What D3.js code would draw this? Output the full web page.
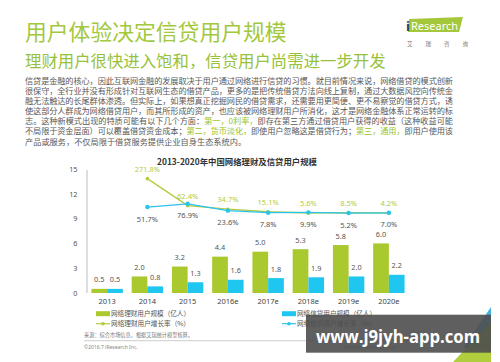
<!DOCTYPE html>
<html><head><meta charset="utf-8">
<script src="https://cdn.jsdelivr.net/npm/d3@7/dist/d3.min.js"></script>
<style>
html,body{margin:0;padding:0;background:#fff;}
svg{display:block;font-family:"Noto Sans","Noto Sans CJK SC",sans-serif;}
</style></head>
<body>
<svg id="c" width="500" height="362"></svg>
<script>
const years = ["2013","2014","2015","2016e","2017e","2018e","2019e","2020e"];
const wealthUsers = [0.5,2.0,3.2,4.4,5.0,5.3,5.8,6.0];
const loanUsers = [0.5,0.8,1.3,1.6,1.8,1.9,2.0,2.2];
const rateYears = ["2014","2015","2016e","2017e","2018e","2019e","2020e"];
const wealthRate = [271.8,62.4,34.7,15.1,5.6,8.5,4.2];
const loanRate = [51.7,76.9,23.6,7.8,9.9,5.2,7.0];
const yTicks = [0,3,6,9,12,15];
const legendLabels = ["网络理财用户规模（亿人）","网络信贷用户规模（亿人）","网络理财用户增长率（%）","网络信贷用户增长率（%）"];
const paraLines = [
 [["信贷是金融的核心，因此互联网金融的发展取决于用户通过网络进行信贷的习惯。就目前情况来说，网络借贷的模式创新",0]],
 [["很保守，全行业并没有形成针对互联网生态的借贷产品，更多的是把传统借贷方法向线上复制，通过大数据风控向传统金",0]],
 [["融无法触达的长尾群体渗透。但实际上，如果想真正挖掘网民的借贷需求，还需要用更简便、更不易察觉的借贷方式，诱",0]],
 [["使这部分人群成为网络借贷用户，而其所形成的资产，也应该被网络理财用户所消化，这才是网络金融体系正常运转的标",0]],
 [["志。这种新模式出现的特质可能有以下几个方面：",0],["第一，0利率，",1],["即存在第三方通过借贷用户获得的收益（这种收益可能",0]],
 [["不局限于资金层面）可以覆盖借贷资金成本；",0],["第二，货币淡化，",1],["即使用户忽略这是借贷行为；",0],["第三，通用，",1],["即用户使用该",0]],
 [["产品或服务，不仅局限于借贷服务提供企业自身生态系统内。",0]]
];

const GREEN = "#a9c92e", BLUE = "#1fc6f0", GLINE = "#b3cc3c", BLINE = "#2ac3ee";
const svg = d3.select("#c");

// header
svg.append("text").attr("x",25).attr("y",40).attr("fill","#a3c83d")
  .attr("font-family","Noto Sans CJK SC").attr("font-size",21.8).text("用户体验决定信贷用户规模");
svg.append("text").attr("x",25).attr("y",67).attr("fill","#98c23a")
  .attr("font-family","Noto Sans CJK SC").attr("font-size",16.4).text("理财用户很快进入饱和，信贷用户尚需进一步开发");

// logo
svg.append("path").attr("d","M409,19 L463,17 L459,32 L408,32 Z").attr("fill","#a4c83a");
svg.append("text").attr("x",406).attr("y",30.5).attr("fill","#1c3f7a").attr("font-size",13).attr("font-weight","bold").text("i");
svg.append("text").attr("x",411).attr("y",30).attr("fill","#fff").attr("font-size",11.5).attr("textLength",47).attr("lengthAdjust","spacingAndGlyphs").text("Research");
["艾","瑞","咨","询"].forEach((t,i)=>svg.append("text").attr("x",407+i*18.5).attr("y",46).attr("fill","#777").attr("font-size",5.5).attr("font-family","Noto Sans CJK SC").text(t));

// paragraph
paraLines.forEach((line,i)=>{
  const t = svg.append("text").attr("x",25).attr("y",83.5+i*10.17).attr("font-size",8.2)
    .attr("font-family","Noto Sans CJK SC").attr("fill","#595959");
  if(i<6) t.attr("textLength",428).attr("lengthAdjust","spacing");
  line.forEach(([s,h])=>t.append("tspan").attr("fill",h?"#9cc31f":"#595959").text(s));
});

// chart title
svg.append("text").attr("x",237).attr("y",164.5).attr("text-anchor","middle").attr("font-size",8.4)
  .attr("font-weight","bold").attr("fill","#333").attr("font-family","Noto Sans CJK SC").text("2013-2020年中国网络理财及信贷用户规模");

// scales
const x = d3.scaleBand().domain(years).range([87,409]).paddingInner(0.22).paddingOuter(0.11);
const x1 = d3.scaleBand().domain(["w","l"]).range([0,x.bandwidth()]);
const y = d3.scaleLinear().domain([0,15]).range([293,169]);
const yr = d3.scaleLinear().domain([0,300]).range([213.7,175]);
const cx = d => x(d)+x.bandwidth()/2;

// y axis
const yAxis = svg.append("g").attr("transform","translate(87,0)")
  .call(d3.axisLeft(y).tickValues(yTicks).tickSize(0).tickPadding(9.5));
yAxis.select(".domain").attr("stroke","#bcbcbc").attr("d","M0,170V293");
yAxis.selectAll("text").attr("font-size",7.3).attr("fill","#555").attr("font-family","Noto Sans");

// x axis labels
const xAxis = svg.append("g").attr("transform","translate(0,293)")
  .call(d3.axisBottom(x).tickSize(0).tickPadding(6));
xAxis.select(".domain").remove();
xAxis.selectAll("text").attr("font-size",7.5).attr("fill","#444").attr("font-family","Noto Sans");

// bars
const g = svg.append("g");
years.forEach((yrk,i)=>{
  [["w",wealthUsers[i],GREEN],["l",loanUsers[i],BLUE]].forEach(([k,v,c])=>{
    const bx = x(yrk)+x1(k);
    g.append("rect").attr("x",bx).attr("y",y(v)).attr("width",x1.bandwidth()).attr("height",y(0)-y(v)).attr("fill",c);
    g.append("text").attr("x",bx+x1.bandwidth()/2).attr("y",y(v)-6.5).attr("text-anchor","middle")
      .attr("font-size",7.3).attr("fill","#555").text(v.toFixed(1));
  });
});

// lines
const line = d3.line().x(d=>cx(d[0])).y(d=>yr(d[1]));
const wData = rateYears.map((d,i)=>[d,wealthRate[i]]);
const lData = rateYears.map((d,i)=>[d,loanRate[i]]);
svg.append("path").datum(wData).attr("d",line).attr("fill","none").attr("stroke",GLINE).attr("stroke-width",1.3);
svg.append("path").datum(lData).attr("d",line).attr("fill","none").attr("stroke",BLINE).attr("stroke-width",1.3);
svg.selectAll(".wd").data(wData).join("circle").attr("cx",d=>cx(d[0])).attr("cy",d=>yr(d[1])).attr("r",1.8).attr("fill",GLINE);
svg.selectAll(".ld").data(lData).join("circle").attr("cx",d=>cx(d[0])).attr("cy",d=>yr(d[1])).attr("r",2.2).attr("fill",BLINE);
svg.selectAll(".wl").data(wData).join("text").attr("x",d=>cx(d[0])).attr("y",d=>yr(d[1])-7).attr("text-anchor","middle")
  .attr("font-size",7.5).attr("fill","#b3cc3c").text(d=>d[1].toFixed(1)+"%");
svg.selectAll(".ll").data(lData).join("text").attr("x",d=>cx(d[0])).attr("y",d=>yr(d[1])+14.5).attr("text-anchor","middle")
  .attr("font-size",7.5).attr("fill","#555").text(d=>d[1].toFixed(1)+"%");

// legend
const lg = svg.append("g").attr("font-family","Noto Sans CJK SC").attr("font-size",6.8).attr("fill","#555");
[[96,313.7,GREEN,0,0],[282,313.7,BLUE,1,0],[96,323.7,GLINE,2,1],[282,323.7,BLINE,3,1]].forEach(([lx,ly,c,k,isLine])=>{
  if(!isLine) lg.append("rect").attr("x",lx).attr("y",ly-2.5).attr("width",14).attr("height",5).attr("fill",c);
  else { lg.append("line").attr("x1",lx).attr("x2",lx+14).attr("y1",ly).attr("y2",ly).attr("stroke",c).attr("stroke-width",1.2);
         lg.append("circle").attr("cx",lx+7).attr("cy",ly).attr("r",1.8).attr("fill",c); }
  lg.append("text").attr("x",lx+15).attr("y",ly+2.4).attr("textLength",79).attr("lengthAdjust","spacingAndGlyphs").text(legendLabels[k]);
});

// footer
svg.append("text").attr("x",84).attr("y",337).attr("font-size",5.2).attr("fill","#777").attr("font-family","Noto Sans CJK SC").text("来源：综合市场信息，根据艾瑞统计模型核算。");
svg.append("line").attr("x1",84).attr("x2",490).attr("y1",340.7).attr("y2",340.7).attr("stroke","#aaa").attr("stroke-width",0.6);
svg.append("text").attr("x",84).attr("y",349).attr("font-size",5).attr("fill","#888").text("©2016.7 iResearch Inc.");
svg.append("text").attr("x",344).attr("y",349).attr("font-size",5).attr("fill","#888").text("www.iresearch.com.cn");

// corner decoration
svg.append("path").attr("d","M491,307 L491,348 L463,348 Z").attr("fill","#3fb4e0");
svg.append("path").attr("d","M491,322 L491,362 L453,362 Z").attr("fill","#a9c92e").attr("opacity",0.92);
svg.append("text").attr("x",476).attr("y",352).attr("font-size",7).attr("fill","#9ab").text("11");

// watermark
svg.append("rect").attr("x",306).attr("y",314.7).attr("width",185).attr("height",38).attr("fill","#4e4e4e").attr("opacity",0.9);
svg.append("text").attr("x",316).attr("y",342.5).attr("font-size",18.5).attr("font-weight","bold").attr("fill","#fff")
  .attr("font-family","Open Sans").attr("textLength",164).attr("lengthAdjust","spacingAndGlyphs").text("www.j9jyh-app.com");
</script>
</body></html>
